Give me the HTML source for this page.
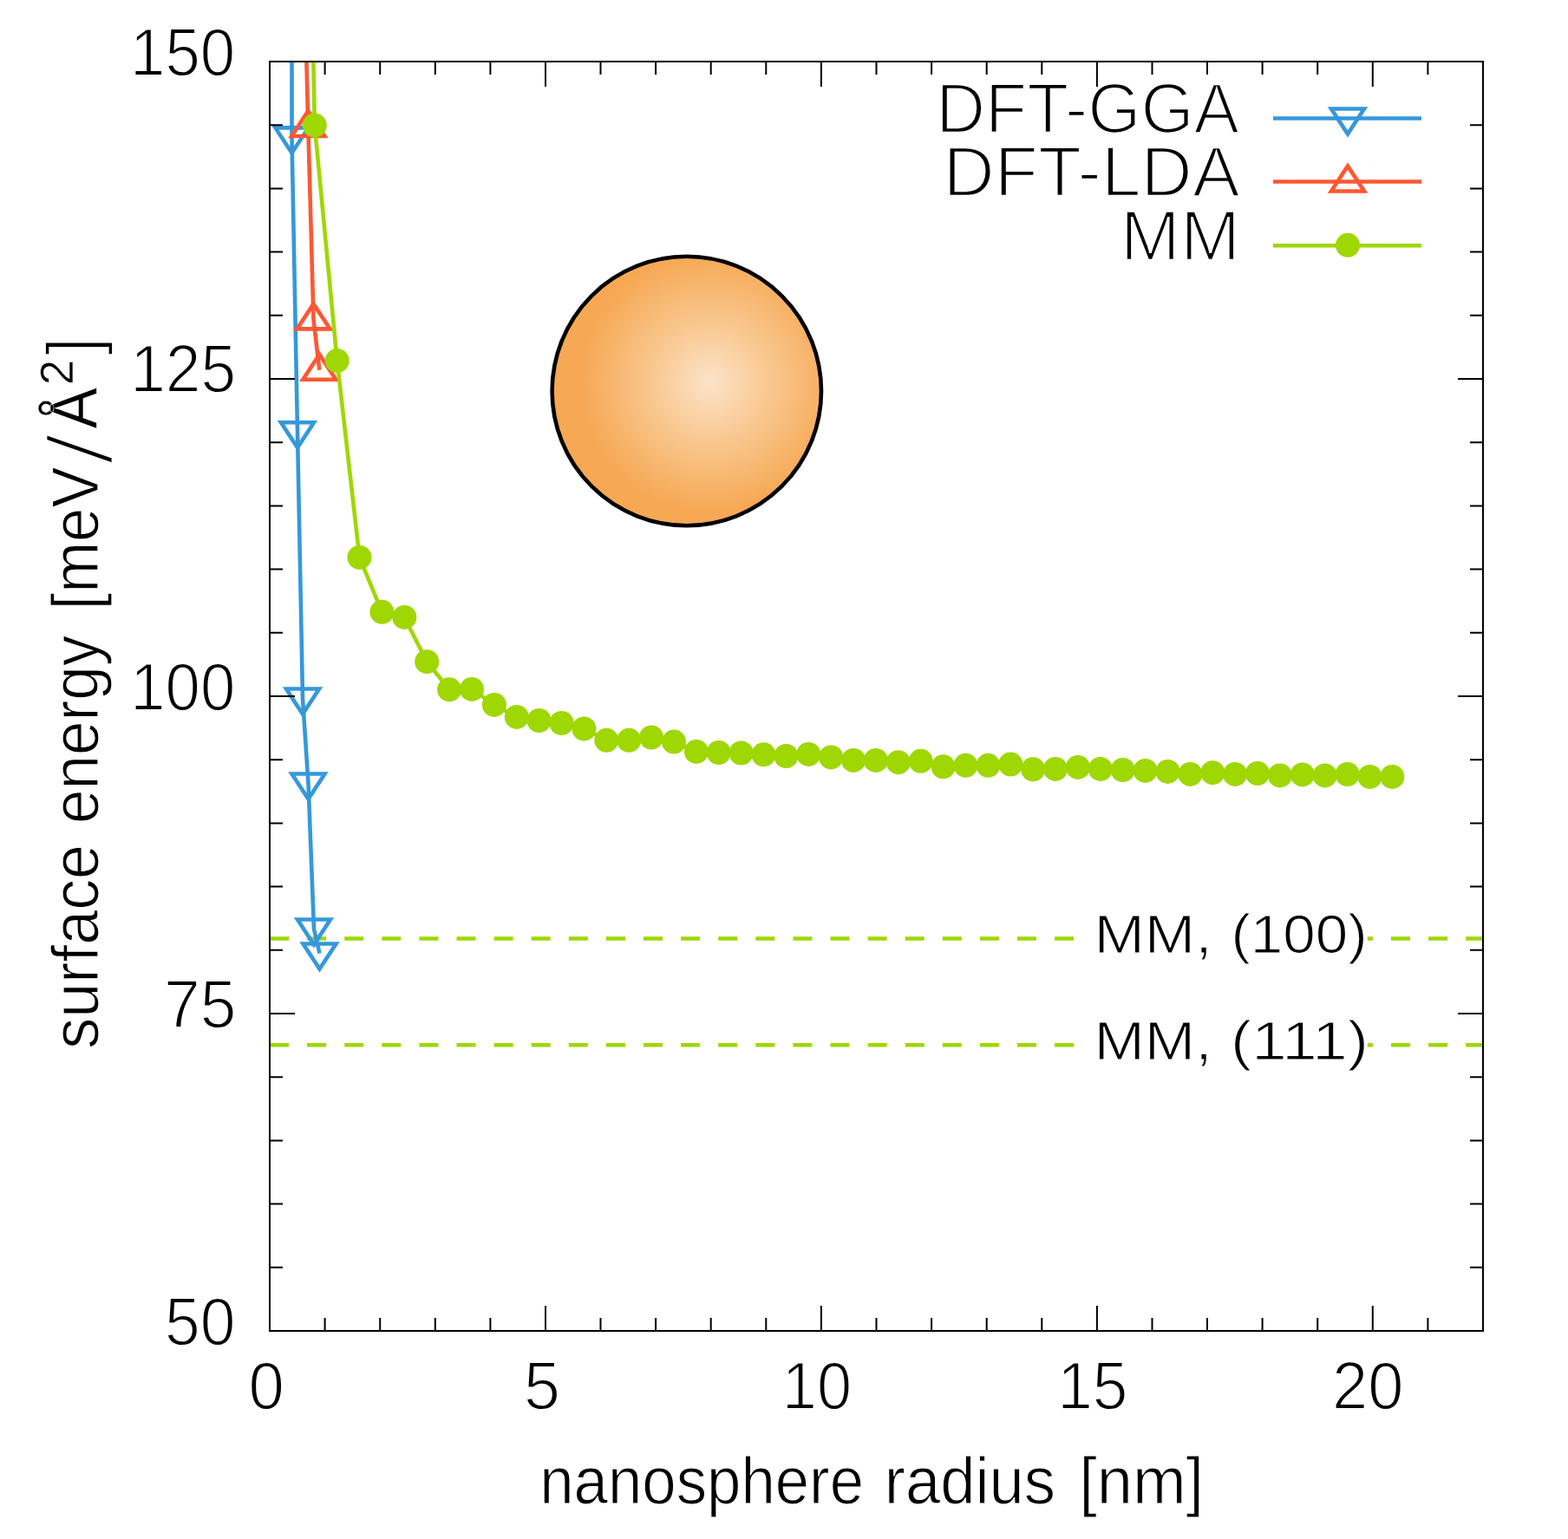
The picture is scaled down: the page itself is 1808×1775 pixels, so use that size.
<!DOCTYPE html><html><head><meta charset="utf-8"><title>surface energy vs nanosphere radius</title>
<style>html,body{margin:0;padding:0;background:#fff;overflow:hidden}svg{display:block}text{font-family:'Liberation Sans', 'DejaVu Sans', sans-serif;fill:#000}</style></head><body>
<svg width="1808" height="1775" viewBox="0 0 1808 1775">
<defs><clipPath id="pa"><rect x="311" y="71" width="1399" height="1464"/></clipPath>
<radialGradient id="sph" gradientUnits="userSpaceOnUse" cx="819" cy="441" r="150" fx="819" fy="441"><stop offset="0" stop-color="#fce3c9"/><stop offset="0.45" stop-color="#f9c890"/><stop offset="1" stop-color="#f6a854"/></radialGradient></defs>
<rect width="1808" height="1775" fill="#fff"/>
<g clip-path="url(#pa)" stroke="#9fd702" stroke-width="4.6" stroke-dasharray="22 21.1">
<line x1="311" y1="1082.5" x2="1710" y2="1082.5"/>
<line x1="311" y1="1205.3" x2="1710" y2="1205.3"/>
</g>
<rect x="1250" y="1072.5" width="326.8" height="20" fill="#fff"/>
<rect x="1250" y="1195.3" width="326.8" height="20" fill="#fff"/>
<circle cx="791.8" cy="451" r="155.2" fill="url(#sph)" stroke="#000" stroke-width="4.6"/>
<g clip-path="url(#pa)" fill="none" stroke-width="4.6" stroke-linejoin="miter" stroke-miterlimit="10">
<polyline points="336.5,-300.0 336.5,158.4 343.0,498.3 349.0,805.5 355.5,903.5 362.0,1071.5 368.5,1099.5" stroke="#3498db"/>
<path d="M317.5 147.4H355.5L336.5 176.4Z" stroke="#3498db"/>
<path d="M324.0 487.3H362.0L343.0 516.3Z" stroke="#3498db"/>
<path d="M330.0 794.5H368.0L349.0 823.5Z" stroke="#3498db"/>
<path d="M336.5 892.5H374.5L355.5 921.5Z" stroke="#3498db"/>
<path d="M343.0 1060.5H381.0L362.0 1089.5Z" stroke="#3498db"/>
<path d="M349.5 1088.5H387.5L368.5 1117.5Z" stroke="#3498db"/>
<polyline points="349.2,-95.0 355.3,146.0 361.5,368.4 368.3,426.7" stroke="#ff5733"/>
<path d="M336.3 157.0H374.3L355.3 128.0Z" stroke="#ff5733"/>
<path d="M342.5 379.4H380.5L361.5 350.4Z" stroke="#ff5733"/>
<path d="M349.3 437.7H387.3L368.3 408.7Z" stroke="#ff5733"/>
<polyline points="336.9,-1217.0 362.8,144.6 388.7,416.1 414.5,642.9 440.4,705.8 466.3,711.9 492.2,763.2 518.1,795.3 544.0,794.9 569.9,812.9 595.8,826.9 621.6,831.0 647.5,834.0 673.4,840.5 699.3,853.8 725.2,853.8 751.1,850.5 777.0,855.6 802.9,866.9 828.7,868.0 854.6,868.5 880.5,870.3 906.4,872.0 932.3,869.9 958.2,873.4 984.1,876.9 1009.9,876.9 1035.8,879.2 1061.7,877.8 1087.6,884.3 1113.5,882.8 1139.4,882.8 1165.3,881.5 1191.2,887.3 1217.0,886.9 1242.9,884.9 1268.8,886.9 1294.7,888.0 1320.6,888.9 1346.5,889.9 1372.4,892.9 1398.3,891.2 1424.1,892.9 1450.0,892.0 1475.9,894.4 1501.8,893.4 1527.7,894.4 1553.6,893.0 1579.5,895.9 1605.3,895.9" stroke="#9fd702"/>
</g>
<g clip-path="url(#pa)">
<circle cx="362.8" cy="144.6" r="14" fill="#9fd702"/>
<circle cx="388.7" cy="416.1" r="14" fill="#9fd702"/>
<circle cx="414.5" cy="642.9" r="14" fill="#9fd702"/>
<circle cx="440.4" cy="705.8" r="14" fill="#9fd702"/>
<circle cx="466.3" cy="711.9" r="14" fill="#9fd702"/>
<circle cx="492.2" cy="763.2" r="14" fill="#9fd702"/>
<circle cx="518.1" cy="795.3" r="14" fill="#9fd702"/>
<circle cx="544.0" cy="794.9" r="14" fill="#9fd702"/>
<circle cx="569.9" cy="812.9" r="14" fill="#9fd702"/>
<circle cx="595.8" cy="826.9" r="14" fill="#9fd702"/>
<circle cx="621.6" cy="831.0" r="14" fill="#9fd702"/>
<circle cx="647.5" cy="834.0" r="14" fill="#9fd702"/>
<circle cx="673.4" cy="840.5" r="14" fill="#9fd702"/>
<circle cx="699.3" cy="853.8" r="14" fill="#9fd702"/>
<circle cx="725.2" cy="853.8" r="14" fill="#9fd702"/>
<circle cx="751.1" cy="850.5" r="14" fill="#9fd702"/>
<circle cx="777.0" cy="855.6" r="14" fill="#9fd702"/>
<circle cx="802.9" cy="866.9" r="14" fill="#9fd702"/>
<circle cx="828.7" cy="868.0" r="14" fill="#9fd702"/>
<circle cx="854.6" cy="868.5" r="14" fill="#9fd702"/>
<circle cx="880.5" cy="870.3" r="14" fill="#9fd702"/>
<circle cx="906.4" cy="872.0" r="14" fill="#9fd702"/>
<circle cx="932.3" cy="869.9" r="14" fill="#9fd702"/>
<circle cx="958.2" cy="873.4" r="14" fill="#9fd702"/>
<circle cx="984.1" cy="876.9" r="14" fill="#9fd702"/>
<circle cx="1009.9" cy="876.9" r="14" fill="#9fd702"/>
<circle cx="1035.8" cy="879.2" r="14" fill="#9fd702"/>
<circle cx="1061.7" cy="877.8" r="14" fill="#9fd702"/>
<circle cx="1087.6" cy="884.3" r="14" fill="#9fd702"/>
<circle cx="1113.5" cy="882.8" r="14" fill="#9fd702"/>
<circle cx="1139.4" cy="882.8" r="14" fill="#9fd702"/>
<circle cx="1165.3" cy="881.5" r="14" fill="#9fd702"/>
<circle cx="1191.2" cy="887.3" r="14" fill="#9fd702"/>
<circle cx="1217.0" cy="886.9" r="14" fill="#9fd702"/>
<circle cx="1242.9" cy="884.9" r="14" fill="#9fd702"/>
<circle cx="1268.8" cy="886.9" r="14" fill="#9fd702"/>
<circle cx="1294.7" cy="888.0" r="14" fill="#9fd702"/>
<circle cx="1320.6" cy="888.9" r="14" fill="#9fd702"/>
<circle cx="1346.5" cy="889.9" r="14" fill="#9fd702"/>
<circle cx="1372.4" cy="892.9" r="14" fill="#9fd702"/>
<circle cx="1398.3" cy="891.2" r="14" fill="#9fd702"/>
<circle cx="1424.1" cy="892.9" r="14" fill="#9fd702"/>
<circle cx="1450.0" cy="892.0" r="14" fill="#9fd702"/>
<circle cx="1475.9" cy="894.4" r="14" fill="#9fd702"/>
<circle cx="1501.8" cy="893.4" r="14" fill="#9fd702"/>
<circle cx="1527.7" cy="894.4" r="14" fill="#9fd702"/>
<circle cx="1553.6" cy="893.0" r="14" fill="#9fd702"/>
<circle cx="1579.5" cy="895.9" r="14" fill="#9fd702"/>
<circle cx="1605.3" cy="895.9" r="14" fill="#9fd702"/>
</g>
<path d="M311.0 1535v-29M311.0 71v29M374.6 1535v-15M374.6 71v15M438.2 1535v-15M438.2 71v15M501.8 1535v-15M501.8 71v15M565.4 1535v-15M565.4 71v15M629.0 1535v-29M629.0 71v29M692.5 1535v-15M692.5 71v15M756.1 1535v-15M756.1 71v15M819.7 1535v-15M819.7 71v15M883.3 1535v-15M883.3 71v15M946.9 1535v-29M946.9 71v29M1010.5 1535v-15M1010.5 71v15M1074.1 1535v-15M1074.1 71v15M1137.7 1535v-15M1137.7 71v15M1201.3 1535v-15M1201.3 71v15M1264.9 1535v-29M1264.9 71v29M1328.5 1535v-15M1328.5 71v15M1392.0 1535v-15M1392.0 71v15M1455.6 1535v-15M1455.6 71v15M1519.2 1535v-15M1519.2 71v15M1582.8 1535v-29M1582.8 71v29M1646.4 1535v-15M1646.4 71v15M1710.0 1535v-15M1710.0 71v15M311 1535.0h29M1710 1535.0h-29M311 1461.8h15M1710 1461.8h-15M311 1388.6h15M1710 1388.6h-15M311 1315.4h15M1710 1315.4h-15M311 1242.2h15M1710 1242.2h-15M311 1169.0h29M1710 1169.0h-29M311 1095.8h15M1710 1095.8h-15M311 1022.6h15M1710 1022.6h-15M311 949.4h15M1710 949.4h-15M311 876.2h15M1710 876.2h-15M311 803.0h29M1710 803.0h-29M311 729.8h15M1710 729.8h-15M311 656.6h15M1710 656.6h-15M311 583.4h15M1710 583.4h-15M311 510.2h15M1710 510.2h-15M311 437.0h29M1710 437.0h-29M311 363.8h15M1710 363.8h-15M311 290.6h15M1710 290.6h-15M311 217.4h15M1710 217.4h-15M311 144.2h15M1710 144.2h-15M311 71.0h29M1710 71.0h-29" stroke="#000" stroke-width="2" fill="none"/>
<rect x="311" y="71" width="1399" height="1464" fill="none" stroke="#000" stroke-width="2"/>
<text transform="translate(150.10 86.60) scale(0.9432 1.0000)" font-size="77.0" stroke="#fff" stroke-width="1.80">150</text>
<text transform="translate(150.15 452.40) scale(0.9504 1.0000)" font-size="77.0" stroke="#fff" stroke-width="1.80">125</text>
<text transform="translate(150.20 818.60) scale(0.9424 1.0000)" font-size="77.0" stroke="#fff" stroke-width="1.80">100</text>
<text transform="translate(189.03 1185.00) scale(0.9750 1.0000)" font-size="77.0" stroke="#fff" stroke-width="1.80">75</text>
<text transform="translate(189.99 1550.80) scale(0.9513 1.0000)" font-size="77.0" stroke="#fff" stroke-width="1.80">50</text>
<text transform="translate(286.54 1624.60) scale(0.9657 1.0000)" font-size="77.0" stroke="#fff" stroke-width="1.80">0</text>
<text transform="translate(604.08 1624.60) scale(0.9800 1.0000)" font-size="77.0" stroke="#fff" stroke-width="1.80">5</text>
<text transform="translate(901.84 1624.60) scale(0.9373 1.0000)" font-size="77.0" stroke="#fff" stroke-width="1.80">10</text>
<text transform="translate(1219.26 1624.60) scale(0.9486 1.0000)" font-size="77.0" stroke="#fff" stroke-width="1.80">15</text>
<text transform="translate(1535.99 1624.60) scale(0.9623 1.0000)" font-size="77.0" stroke="#fff" stroke-width="1.80">20</text>
<text transform="translate(1079.24 152.60) scale(0.9577 1.0000)" font-size="82.21" stroke="#fff" stroke-width="2.60">DFT-GGA</text>
<text transform="translate(1087.51 225.90) scale(0.9988 1.0000)" font-size="82.21" stroke="#fff" stroke-width="2.60">DFT-LDA</text>
<text transform="translate(1291.83 299.90) scale(1.0091 1.0000)" font-size="82.21" stroke="#fff" stroke-width="2.60">MM</text>
<text transform="translate(622.23 1733.90) scale(0.9277 1.0000)" font-size="76.3" stroke="#fff" stroke-width="1.20">nanosphere</text>
<text transform="translate(1019.81 1733.90) scale(0.9490 1.0000)" font-size="76.3" stroke="#fff" stroke-width="1.20">radius</text>
<text transform="translate(1244.18 1733.90) scale(0.9706 1.0000)" font-size="76.3" stroke="#fff" stroke-width="1.20">[nm]</text>
<text transform="translate(112.90 1209.73) rotate(-90) scale(0.9428 1.0000)" font-size="76.3" stroke="#fff" stroke-width="1.20">surface</text>
<text transform="translate(112.90 949.92) rotate(-90) scale(0.9311 1.0000)" font-size="76.3" stroke="#fff" stroke-width="1.20">energy</text>
<text transform="translate(112.90 703.35) rotate(-90) scale(0.9257 1.0000)" font-size="76.3" stroke="#fff" stroke-width="1.20">[meV</text>
<text transform="translate(129.86 537.07) rotate(-90) scale(1.1920 0.9313)" font-size="116.01" stroke="#fff" stroke-width="5.00">/</text>
<text transform="translate(112.00 494.40) rotate(-90) scale(0.9000 0.9900)" font-size="78.92" stroke="#fff" stroke-width="0.60">Å</text>
<text transform="translate(83.80 444.24) rotate(-90) scale(0.9792 1.0000)" font-size="54.0" stroke="#fff" stroke-width="0.60">2</text>
<text transform="translate(113.10 409.61) rotate(-90) scale(0.8571 1.0000)" font-size="84.04" stroke="#fff" stroke-width="1.80">]</text>
<text transform="translate(1261.38 1098.90) scale(1.1202 1.0000)" font-size="62.6" stroke="#fff" stroke-width="1.20">MM,</text>
<text transform="translate(1419.42 1098.90) scale(1.0766 1.0000)" font-size="62.6" stroke="#fff" stroke-width="1.20">(100)</text>
<text transform="translate(1261.38 1221.70) scale(1.1202 1.0000)" font-size="62.6" stroke="#fff" stroke-width="1.20">MM,</text>
<text transform="translate(1418.99 1221.70) scale(1.1614 1.0000)" font-size="62.6" stroke="#fff" stroke-width="1.20">(111)</text>
<g fill="none" stroke-width="4.6" stroke-linejoin="miter" stroke-miterlimit="10">
<line x1="1468" y1="136.5" x2="1639" y2="136.5" stroke="#3498db"/>
<path d="M1535.0 125.5H1573.0L1554.0 154.5Z" stroke="#3498db"/>
<line x1="1468" y1="209.5" x2="1639" y2="209.5" stroke="#ff5733"/>
<path d="M1535.0 220.5H1573.0L1554.0 191.5Z" stroke="#ff5733"/>
<line x1="1468" y1="283.2" x2="1639" y2="283.2" stroke="#9fd702"/>
</g>
<circle cx="1554.0" cy="282.8" r="14" fill="#9fd702"/>
</svg></body></html>
